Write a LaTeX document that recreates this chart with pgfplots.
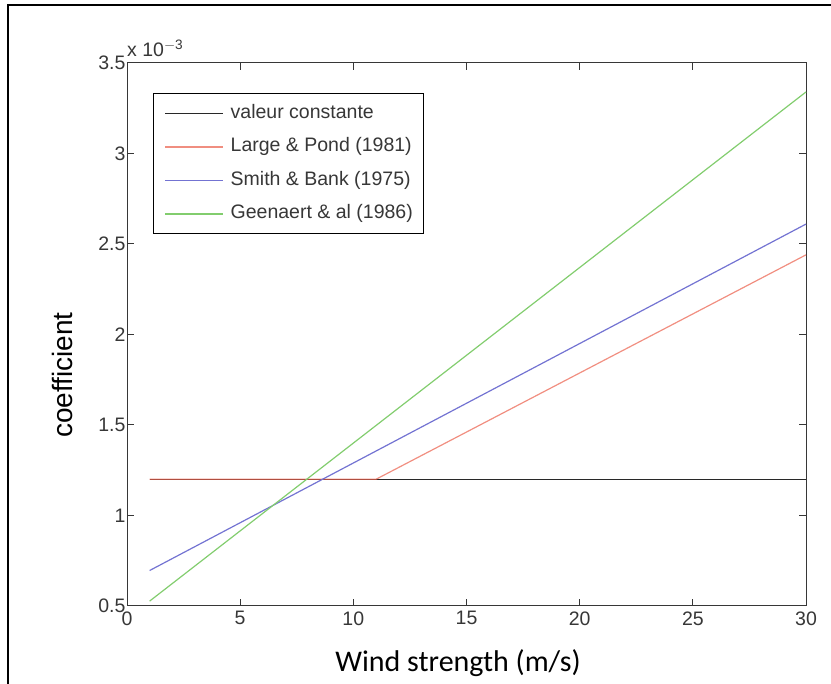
\documentclass[border=0pt]{standalone}
\usepackage{pgfplots}
\pgfplotsset{compat=1.18}
\usepackage{fontspec}
\setmainfont{Liberation Sans}
\newfontfamily\labfont{Carlito}
\definecolor{cconst}{RGB}{40,40,40}
\definecolor{cred}{RGB}{235,95,75}
\definecolor{cblue}{RGB}{115,115,210}
\definecolor{cgreen}{RGB}{130,205,110}
\definecolor{caxis}{RGB}{55,55,55}
\begin{document}
\begin{tikzpicture}[x=1bp,y=1bp]
\useasboundingbox (0,0) rectangle (831,684);
\draw[line width=2bp] (8,0) -- (8,679) -- (831,679);
\begin{axis}[
  at={(127bp,78bp)}, anchor=south west,
  width=679bp, height=543bp, scale only axis,
  xmin=0, xmax=30, ymin=0.5, ymax=3.5,
  xtick={0,5,...,30}, ytick={0.5,1,...,3.5},
  tick align=inside, major tick length=7bp,
  axis line style={caxis, line width=1bp},
  every tick/.style={caxis, line width=1bp},
  /pgf/number format/assume math mode=true,
  ticklabel style={font=\fontsize{19.5bp}{23bp}\selectfont, text=caxis},
  xticklabel style={yshift=-2bp},
  yticklabel style={xshift=2bp},
  legend style={at={(rel axis cs:0.0383,0.9448)}, anchor=north west,
    draw=black, line width=1bp, fill=white, inner sep=11bp,
    font=\fontsize{19.5bp}{23bp}\selectfont, text=caxis,
    nodes={inner sep=0pt, text height=14bp, text depth=4bp},
    row sep=15.5bp},
  legend cell align=left,
  legend image code/.code={\draw[#1, line width=1.2bp] (0bp,0bp) -- (58bp,0bp);},
  clip=false,
]
\addplot[cconst, line width=1.2bp] coordinates {(1,1.2) (30,1.2)};
\addlegendentry{\hspace*{7bp}valeur constante}
\addplot[cred, opacity=0.7, line width=1.2bp] coordinates {(1,1.2) (11,1.2) (30,2.44)};
\addlegendentry{\hspace*{7bp}Large \& Pond (1981)}
\addplot[cblue, line width=1.2bp] coordinates {(1,0.696) (30,2.61)};
\addlegendentry{\hspace*{7bp}Smith \& Bank (1975)}
\addplot[cgreen, line width=1.2bp] coordinates {(1,0.527) (30,3.34)};
\addlegendentry{\hspace*{7bp}Geenaert \& al (1986)}
\node[anchor=south west, inner sep=0pt, text=caxis, font=\fontsize{19.5bp}{23bp}\selectfont] at (rel axis cs:0,1) [yshift=6bp] {x 10$^{\mathrm{-3}}$};
\end{axis}
\node[rotate=90, font=\fontsize{28bp}{32bp}\selectfont] at (62,309) {coefficient};
\node[font=\labfont\fontsize{30bp}{34bp}\selectfont] at (458,21) {Wind strength (m/s)};
\end{tikzpicture}
\end{document}
